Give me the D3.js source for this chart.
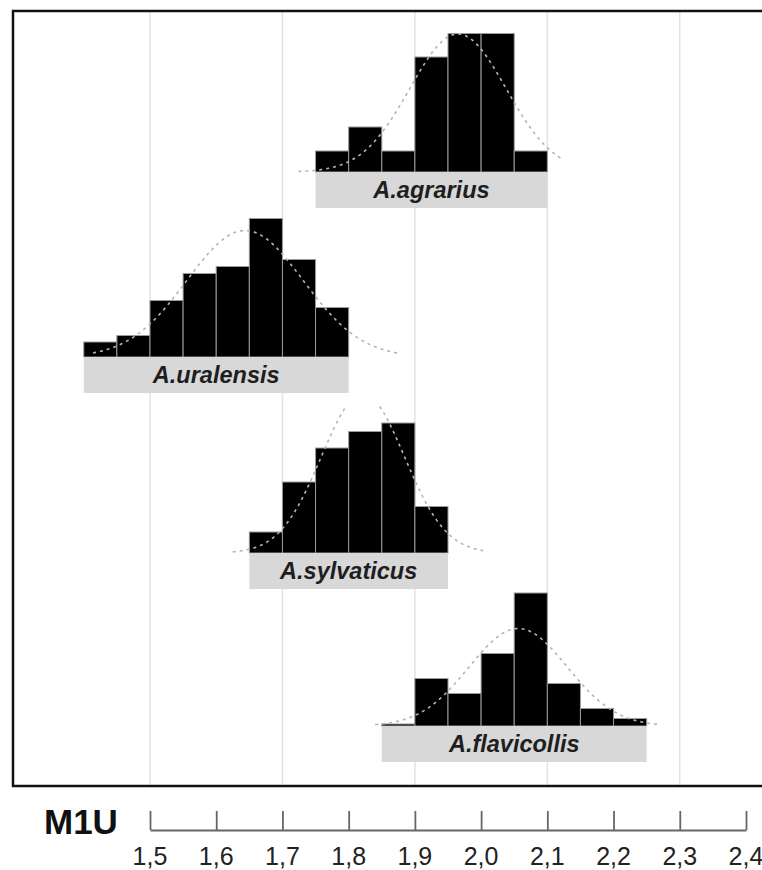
<!DOCTYPE html>
<html>
<head>
<meta charset="utf-8">
<script src="https://cdn.jsdelivr.net/npm/d3@7"></script>
<style>
  html, body { margin: 0; padding: 0; background: #fff; }
  svg { display: block; }
</style>
</head>
<body>
<svg id="chart" width="762" height="870"></svg>
<script>
// Tooth measurement M1U (mm), histograms per species with fitted normal curves
const xTicks = [1.5, 1.6, 1.7, 1.8, 1.9, 2.0, 2.1, 2.2, 2.3, 2.4];
const gridValues = [1.5, 1.7, 1.9, 2.1, 2.3];
const axisTitle = "M1U";

const speciesNames = ["A.agrarius", "A.uralensis", "A.sylvaticus", "A.flavicollis"];
const binWidth = 0.05;
const binStart = [1.75, 1.40, 1.65, 1.85];

// relative frequencies per 0.05 bin
const freqAgrarius    = [4.2, 9.0, 4.2, 23.0, 27.7, 27.7, 4.2];
const freqUralensis   = [3.0, 4.3, 11.3, 16.7, 18.1, 27.7, 19.5, 9.9];
const freqSylvaticus  = [4.2, 14.2, 21.0, 24.3, 26.0, 9.3];
const freqFlavicollis = [0.4, 9.5, 6.5, 14.5, 26.6, 8.5, 3.5, 1.5];

// fitted normal curves
const curveMean = [1.965, 1.6435, 1.8215, 2.056];
const curveSD   = [0.0725, 0.0876, 0.0627, 0.074];
const curvePeak = [27.6, 25.3, 31.8, 19.5];
const curveFrom = [1.724, 1.414, 1.625, 1.84];
const curveTo   = [2.124, 1.878, 2.003, 2.266];

const freqs = [freqAgrarius, freqUralensis, freqSylvaticus, freqFlavicollis];

const svg = d3.select("#chart");

const frame = { left: 13, top: 11, bottom: 786 };
const x = d3.scaleLinear().domain([1.5, 2.4]).range([150, 746]);

// panel baselines
const baselines = [172, 357, 553, 726];
const panelHeight = 147.5;
const yMax = 29.5;
const labelH = 36;

// grid lines
svg.append("g")
  .selectAll("line")
  .data(gridValues)
  .join("line")
  .attr("x1", d => x(d)).attr("x2", d => x(d))
  .attr("y1", frame.top).attr("y2", frame.bottom)
  .attr("stroke", "#e2e2e2")
  .attr("stroke-width", 1.5);

const defs = svg.append("defs");

speciesNames.forEach((name, i) => {
  const base = baselines[i];
  const y = d3.scaleLinear().domain([0, yMax]).range([base, base - panelHeight]);
  const data = freqs[i];
  const bins = data.map((v, j) => ({
    x0: binStart[i] + j * binWidth,
    x1: binStart[i] + (j + 1) * binWidth,
    v
  }));
  const g = svg.append("g");

  g.selectAll("rect.bar")
    .data(bins)
    .join("rect")
    .attr("class", "bar")
    .attr("x", d => x(d.x0))
    .attr("width", d => x(d.x1) - x(d.x0))
    .attr("y", d => y(d.v))
    .attr("height", d => y(0) - y(d.v))
    .attr("fill", "#000")
    .attr("stroke", "#9a9a9a")
    .attr("stroke-width", 1);

  // label box
  const x0 = binStart[i], x1 = binStart[i] + data.length * binWidth;
  g.append("rect")
    .attr("x", x(x0))
    .attr("y", base)
    .attr("width", x(x1) - x(x0))
    .attr("height", labelH)
    .attr("fill", "#d8d8d8");
  g.append("text")
    .attr("x", (x(x0) + x(x1)) / 2)
    .attr("y", base + 26)
    .attr("text-anchor", "middle")
    .attr("font-family", "'Liberation Sans', Arial, sans-serif")
    .attr("font-weight", "bold")
    .attr("font-style", "italic")
    .attr("font-size", 23.5)
    .attr("fill", "#1e1e1e")
    .text(name);

  // fitted curve, clipped to the panel area
  const clipId = "clip" + i;
  defs.append("clipPath").attr("id", clipId)
    .append("rect")
    .attr("x", 0).attr("y", base - panelHeight)
    .attr("width", 762).attr("height", panelHeight + 1);
  const m = curveMean[i], s = curveSD[i], p = curvePeak[i];
  const pts = d3.range(0, 201).map(k => {
    const xv = curveFrom[i] + (curveTo[i] - curveFrom[i]) * k / 200;
    return [xv, p * Math.exp(-((xv - m) ** 2) / (2 * s * s))];
  });
  g.append("path")
    .datum(pts)
    .attr("clip-path", `url(#${clipId})`)
    .attr("d", d3.line().x(d => x(d[0])).y(d => y(d[1])))
    .attr("fill", "none")
    .attr("stroke", "#b4b4b4")
    .attr("stroke-width", 1.6)
    .attr("stroke-dasharray", "3,4");
});

// frame
svg.append("rect")
  .attr("x", frame.left)
  .attr("y", frame.top)
  .attr("width", 800)
  .attr("height", frame.bottom - frame.top)
  .attr("fill", "none")
  .attr("stroke", "#111")
  .attr("stroke-width", 2.5);

// bottom axis
const axisY = 830;
const axis = d3.axisTop(x)
  .tickValues(xTicks)
  .tickSize(19)
  .tickSizeOuter(0)
  .tickFormat(() => "");
const ag = svg.append("g").attr("transform", `translate(0,${axisY})`).call(axis);
ag.select(".domain").attr("stroke", "#666").attr("stroke-width", 2);
ag.selectAll(".tick line").attr("stroke", "#666").attr("stroke-width", 1.8);

svg.append("g")
  .selectAll("text")
  .data(xTicks)
  .join("text")
  .attr("x", d => x(d))
  .attr("y", 865)
  .attr("text-anchor", "middle")
  .attr("font-family", "'Liberation Sans Narrow', 'Liberation Sans', Arial, sans-serif")
  .attr("font-size", 25)
  .attr("fill", "#222")
  .text(d => d3.format(".1f")(d).replace(".", ","));

svg.append("text")
  .attr("x", 44)
  .attr("y", 834)
  .attr("font-family", "'Liberation Sans', Arial, sans-serif")
  .attr("font-weight", "bold")
  .attr("font-size", 35)
  .attr("fill", "#111")
  .text(axisTitle);
</script>
</body>
</html>
